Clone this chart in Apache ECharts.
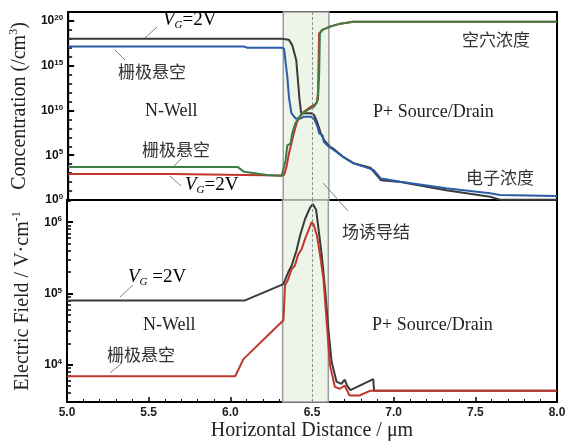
<!DOCTYPE html>
<html><head><meta charset="utf-8">
<script src="https://cdn.jsdelivr.net/npm/echarts@6/dist/echarts.min.js"></script>
<style>html,body{margin:0;padding:0;background:#fff}#c{width:575px;height:442px}</style>
</head><body><div id="c"></div>
<script>
// ---- data ----
// Top panel: carrier concentration (/cm^3)
const topBlackX = [5.0, 6.31, 6.355, 6.375, 6.40, 6.41, 6.42, 6.43, 6.49, 6.51, 6.53, 6.55, 6.57, 6.59, 6.61, 6.63, 6.69, 6.75, 6.855, 6.875, 6.92, 7.04, 7.32, 7.59, 7.65, 8.0];
const topBlackY = [1e18, 1e18, 8e17, 2e17, 4e15, 2.5e13, 1.6e11, 5e9, 5e9, 3e9, 4e8, 3e7, 5e6, 2e6, 8e5, 5e5, 6e4, 1.3e4, 4e3, 1.5e3, 160, 100, 12, 2.3, 1.1, 1.1];
const topBlueX = [5.0, 6.08, 6.10, 6.31, 6.325, 6.335, 6.345, 6.355, 6.37, 6.395, 6.427, 6.447, 6.488, 6.508, 6.53, 6.54, 6.56, 6.57, 6.60, 6.63, 6.69, 6.75, 6.855, 6.875, 6.92, 7.04, 7.32, 7.59, 7.65, 8.0];
const topBlueY = [1.4e17, 1.4e17, 1e17, 1e17, 8e16, 2e15, 6e13, 3e11, 5e9, 1.3e9, 1.3e9, 2e9, 2e9, 1.3e9, 1.6e8, 2.8e7, 1.8e7, 3e6, 9e5, 4e5, 6e4, 1.3e4, 3e3, 2.2e3, 250, 110, 20, 5.6, 3.6, 2.8];
const topGreenX = [5.0, 6.04, 6.08, 6.22, 6.31, 6.32, 6.335, 6.345, 6.365, 6.375, 6.395, 6.427, 6.468, 6.508, 6.533, 6.54, 6.545, 6.56, 6.61, 6.67, 6.75, 8.0];
const topGreenY = [5e3, 5e3, 1.4e3, 630, 480, 630, 3e4, 1.3e6, 2e6, 2.8e7, 4e8, 3e9, 1.1e10, 2.5e10, 1.6e11, 6e13, 4e18, 1e19, 2.3e19, 5e19, 8e19, 8e19];
const topRedX = [5.0, 5.63, 5.64, 6.31, 6.325, 6.34, 6.355, 6.37, 6.385, 6.405, 6.437, 6.488, 6.525, 6.533, 6.54, 6.56, 6.61, 6.67, 6.75, 8.0];
const topRedY = [800, 800, 530, 530, 630, 5e3, 1.6e5, 2e6, 2.8e7, 5.6e8, 5e9, 2.5e10, 6.3e10, 8e11, 4e18, 1e19, 2.5e19, 5e19, 8e19, 8e19];
// Bottom panel: electric field (V/cm)
const botBlackX = [5.0, 6.09, 6.325, 6.335, 6.355, 6.375, 6.405, 6.427, 6.457, 6.488, 6.505, 6.525, 6.54, 6.56, 6.58, 6.60, 6.62, 6.65, 6.68, 6.70, 6.715, 6.735, 6.875, 6.88, 8.0];
const botBlackY = [8e4, 8e4, 1.35e5, 1.35e5, 2e5, 2.45e5, 4e5, 6.5e5, 1.1e6, 1.6e6, 1.8e6, 1.5e6, 8e5, 3.4e5, 1.15e5, 3.2e4, 1.1e4, 5.8e3, 5.4e3, 6.2e3, 5.1e3, 4.4e3, 6.3e3, 4.3e3, 4.3e3];
const botRedX = [5.0, 6.03, 6.08, 6.325, 6.335, 6.355, 6.375, 6.395, 6.415, 6.437, 6.457, 6.478, 6.498, 6.51, 6.53, 6.55, 6.57, 6.59, 6.61, 6.64, 6.67, 6.70, 6.73, 6.79, 6.855, 8.0];
const botRedY = [6.9e3, 6.9e3, 1.2e4, 4.2e4, 1.3e5, 1.6e5, 2.2e5, 2.45e5, 3.5e5, 4.2e5, 5.8e5, 7.6e5, 1e6, 9.3e5, 6.5e5, 3.4e5, 1.6e5, 4e4, 9.8e3, 4.9e3, 4.6e3, 5.1e3, 3.7e3, 3.7e3, 4.3e3, 4.3e3];
// axes / tick labels
const xMin = 5.0, xMax = 8.0, xStep = 0.5;
const topExponents = [0, 5, 10, 15, 20];   // labels 10^0 ... 10^20
const topRange = [1, 1e21];
const botExponents = [4, 5, 6];            // labels 10^4 ... 10^6
const botRange = [3000, 2.05e6];
const junction = [6.32, 6.60];
const junctionMid = 6.5;

// ---- build ----
const lg = v => Math.log10(v);
const pairs = (xs, ys) => xs.map((x, i) => [x, lg(ys[i])]);
const serifFont = '"Liberation Serif","Times New Roman",serif';
const sansFont = '"Liberation Sans",Arial,sans-serif';
const cjkFont = '"Noto Sans CJK SC",sans-serif';

const topMinor = [];
for (let e = 1; e < 21; e++) if (e % 5) topMinor.push(e);
const botMinor = [];
for (let e = 3; e <= 6; e++) for (let k = 2; k <= 9; k++) {
  const v = lg(k * Math.pow(10, e));
  if (v > lg(botRange[0]) && v < lg(botRange[1])) botMinor.push(v);
}

const expLabel = v => {
  const r = Math.round(v);
  return Math.abs(v - r) < 1e-6 ? '{b|10}{s|' + r + '}' : '';
};
const labelRich = {
  b: {fontSize: 12, fontWeight: 'bold', fontFamily: sansFont, color: '#111', lineHeight: 14},
  s: {fontSize: 8, fontWeight: 'bold', fontFamily: sansFont, color: '#111', lineHeight: 8, verticalAlign: 'top'}
};
const nameRich = {
  n: {fontSize: 20, fontFamily: serifFont, color: '#222', lineHeight: 24},
  sup: {fontSize: 12, fontFamily: serifFont, color: '#222', lineHeight: 12, verticalAlign: 'top'}
};

const axisLine = {show: true, lineStyle: {color: '#000', width: 2}};
const majorTick = vals => ({show: true, inside: true, length: 6, customValues: vals, lineStyle: {color: '#000', width: 2}});
const minorAxis = (gi, range, vals) => ({type: 'value', gridIndex: gi, min: lg(range[0]), max: lg(range[1]),
  position: 'left', axisLine: {show: false}, axisLabel: {show: false}, splitLine: {show: false},
  axisTick: {show: true, inside: true, length: 4, customValues: vals, lineStyle: {color: '#000', width: 1.5}}});

function junctionSeries(gi) {
  return {
    type: 'line', xAxisIndex: gi, yAxisIndex: gi * 2, data: [], z: 1, silent: true,
    markArea: {silent: true, itemStyle: {color: '#edf5e9', borderColor: '#9c9c9c', borderWidth: 1.5},
      data: [[{xAxis: junction[0]}, {xAxis: junction[1]}]]},
    markLine: {silent: true, symbol: ['none', 'none'], label: {show: false},
      lineStyle: {type: [3, 2], color: '#777', width: 0.8}, data: [{xAxis: junctionMid}]}
  };
}
function line(gi, xs, ys, color) {
  return {type: 'line', xAxisIndex: gi, yAxisIndex: gi * 2, data: pairs(xs, ys), showSymbol: false,
    symbol: 'none', z: 3, lineStyle: {color: color, width: 2}, itemStyle: {color: color}};
}

const annText = (text, x, y, extra) => Object.assign({type: 'text', z: 100, style: Object.assign({
  text: text, x: x, y: y, font: '18px ' + serifFont, fill: '#222', textVerticalAlign: 'middle'}, extra || {})});
const cjkText = (text, x, y) => annText(text, x, y, {font: '17px ' + cjkFont, fill: '#333'});
const lead = (x1, y1, x2, y2) => ({type: 'line', z: 100, shape: {x1, y1, x2, y2}, style: {stroke: '#666', lineWidth: 0.8}});
const vgRich = {
  i: {fontSize: 19, fontStyle: 'italic', fontFamily: serifFont, color: '#222', lineHeight: 22},
  g: {fontSize: 11, fontStyle: 'italic', fontFamily: serifFont, color: '#222', lineHeight: 8, verticalAlign: 'bottom'},
  n: {fontSize: 19, fontFamily: serifFont, color: '#222', lineHeight: 22}
};
const vgText = (x, y, sep) => ({type: 'text', z: 100, style: {text: '{i|V}{g|G}{n|' + sep + '=2V}', rich: vgRich, x: x, y: y, textVerticalAlign: 'middle'}});

const option = {
  animation: false,
  backgroundColor: '#fff',
  grid: [
    {left: 67, right: 18, top: 12, height: 188, show: true, borderColor: '#000', borderWidth: 2, backgroundColor: 'transparent'},
    {left: 67, right: 18, top: 200, height: 203, show: true, borderColor: '#000', borderWidth: 2, backgroundColor: 'transparent'}
  ],
  xAxis: [
    {type: 'value', gridIndex: 0, min: xMin, max: xMax, interval: xStep, axisLine: axisLine,
      axisTick: {show: false}, axisLabel: {show: false}, splitLine: {show: false}},
    {type: 'value', gridIndex: 1, min: xMin, max: xMax, interval: xStep, axisLine: axisLine,
      axisTick: {show: true, inside: true, length: 5, lineStyle: {color: '#000', width: 1.5}},
      minorTick: {show: true, splitNumber: 5, length: 3, lineStyle: {color: '#000', width: 1}},
      axisLabel: {margin: 5, fontSize: 12, fontWeight: 'bold', fontFamily: sansFont, color: '#222', formatter: v => v.toFixed(1)},
      splitLine: {show: false}, minorSplitLine: {show: false},
      name: 'Horizontal Distance / \u03bcm', nameLocation: 'middle', nameGap: 19,
      nameTextStyle: {fontSize: 20, fontFamily: serifFont, color: '#222'}}
  ],
  yAxis: [
    {type: 'value', gridIndex: 0, min: lg(topRange[0]), max: lg(topRange[1]), interval: 5, axisLine: axisLine,
      axisTick: majorTick(topExponents),
      axisLabel: {margin: 5, customValues: topExponents, formatter: expLabel, rich: labelRich},
      splitLine: {show: false},
      name: '{n|Concentration (/cm}{sup|3}{n|)}', nameLocation: 'middle', nameGap: 32, nameRotate: 90,
      nameTextStyle: {rich: nameRich}},
    minorAxis(0, topRange, topMinor),
    {type: 'value', gridIndex: 1, min: lg(botRange[0]), max: lg(botRange[1]), splitNumber: 3, axisLine: axisLine,
      axisTick: majorTick(botExponents),
      axisLabel: {margin: 5, customValues: botExponents, formatter: expLabel, rich: labelRich},
      splitLine: {show: false},
      name: '{n|Electric Field / V\u00b7cm}{sup|-1}', nameLocation: 'middle', nameGap: 32, nameRotate: 90,
      nameTextStyle: {rich: nameRich}},
    minorAxis(1, botRange, botMinor)
  ],
  series: [
    junctionSeries(0),
    junctionSeries(1),
    line(0, topBlackX, topBlackY, '#3a3a3a'),
    line(0, topBlueX, topBlueY, '#2b5ca8'),
    line(0, topRedX, topRedY, '#c0362c'),
    line(0, topGreenX, topGreenY, '#3f7d47'),
    line(1, botBlackX, botBlackY, '#3a3a3a'),
    line(1, botRedX, botRedY, '#c0362c')
  ],
  graphic: [
    vgText(163, 20, ''), lead(145, 38, 157, 27),
    cjkText('栅极悬空', 118, 72), lead(115, 50, 125, 60),
    annText('N-Well', 145, 111),
    cjkText('栅极悬空', 142, 150), lead(173, 167, 182, 158),
    vgText(185, 185, ''), lead(170, 176, 181, 186),
    annText('P+ Source/Drain', 373, 112),
    cjkText('空穴浓度', 462, 40),
    cjkText('电子浓度', 466, 178),
    lead(323, 183, 348, 211),
    cjkText('场诱导结', 342, 232),
    vgText(128, 277, ' '), lead(120, 297, 133, 285),
    annText('N-Well', 143, 325),
    cjkText('栅极悬空', 107, 355), lead(110, 373, 122, 363),
    annText('P+ Source/Drain', 372, 325)
  ]
};
const chart = echarts.init(document.getElementById('c'), null, {renderer: 'canvas'});
chart.setOption(option);
</script></body></html>
